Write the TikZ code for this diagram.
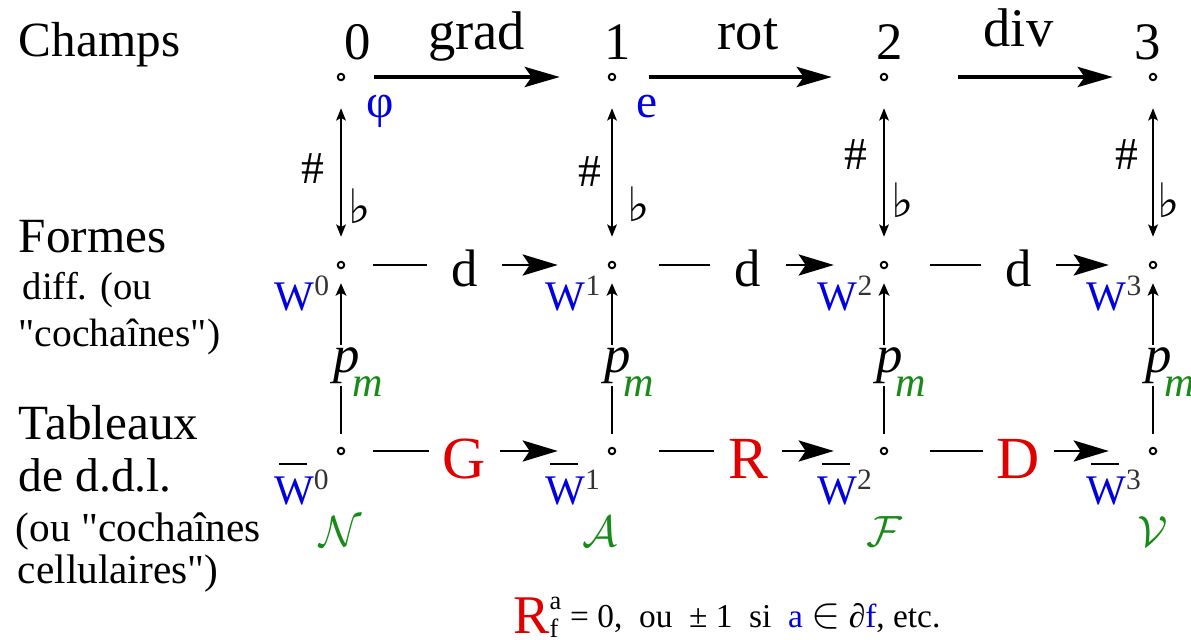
\documentclass[tikz,border=0pt]{standalone}
\usepackage{fontspec}
\setmainfont{Liberation Serif}[Ligatures=TeXOff]
\newfontfamily\symfont{DejaVu Sans}
\usepackage{xcolor}
\usepackage{tikz}
\usetikzlibrary{arrows.meta, positioning, calc}
\definecolor{wblue}{HTML}{0000E0}
\definecolor{ddlred}{HTML}{E00000}
\definecolor{cellgreen}{HTML}{188A18}
\newcommand{\sz}[1]{\fontsize{#1}{#1}\selectfont}
\newcommand{\Wbar}{\leavevmode\rlap{\hspace{0.12em}\textcolor{black}{\rule[0.95em]{0.66em}{0.035em}}}W}
\newcommand{\pmlab}{\textit{p}\kern-0.13em\raisebox{-0.46em}[0pt][0pt]{\textcolor{cellgreen}{\sz{24}\textit{m}}}}

\begin{document}
\begin{tikzpicture}[
    every node/.style={inner sep=2pt},
    site/.style={circle, draw, line width=1.1pt, minimum size=0.13cm, inner sep=0pt},
    rowhead/.style={anchor=base west, font=\sz{#1}},
    num/.style={anchor=base, font=\sz{30}},
    oplab/.style={anchor=base, font=\sz{31}},
    bigarrow/.style={line width=1.8pt, -{Stealth[length=20pt, width=11.5pt, inset=4pt]}},
    midarrow/.style={line width=1.5pt, -{Stealth[length=20pt, width=12pt, inset=4pt]}},
    duality/.style={line width=1.1pt,
        {Stealth[length=7pt, width=5.5pt, inset=1.5pt]}-{Stealth[length=7pt, width=5.5pt, inset=1.5pt]}},
    interp/.style={line width=1.5pt, -{Stealth[length=7pt, width=6pt, inset=1.5pt]}},
    gaplab/.style={fill=white, inner ysep=1pt},
    wlab/.style={anchor=base east, text=wblue, font=\sz{24}},
    meshlab/.style={text=cellgreen, font=\sz{23}},
]
\useasboundingbox (0,0) rectangle (23.82,-12.8);

% ── the three rows of sites ──────────────────────────────
\foreach \i/\x in {0/6.82, 1/12.24, 2/17.68, 3/23.06} {
    \node[site] (c\i) at (\x,-1.54) {};
    \node[site] (f\i) at (\x,-5.30) {};
    \node[site] (t\i) at (\x,-9.02) {};
}

% ── row headers ──────────────────────────────────────────
\node[rowhead=28]   (hchamps) at (0.30,-1.14)  {Champs};
\node[rowhead=28]   (hformes) at (0.30,-5.06)  {Formes};
\node[rowhead=22]   (hdiff)   at (0.38,-6.00)  {diff. (ou};
\node[rowhead=22.5] (hcoch)   at (0.30,-6.94)  {"cochaînes")};
\node[rowhead=28]   (htab)    at (0.30,-8.80)  {Tableaux};
\node[rowhead=27]   (hddl)    at (0.30,-9.84)  {de d.d.l.};
\node[rowhead=23.5] (hou)     at (0.24,-10.84) {(ou "cochaînes};
\node[rowhead=23.5] (hcell)   at (0.28,-11.66) {cellulaires")};

% ── fields ───────────────────────────────────────────────
\foreach \i/\dx in {0/0.34, 1/0.12, 2/0.12, 3/-0.1}
    \node[num] (n\i) at ($(c\i)+(\dx,0.34)$) {\i};

\draw[bigarrow, shorten <=0.58cm, shorten >=0.96cm] (c0) -- node[oplab, yshift=0.54cm] (grad) {grad} (c1);
\draw[bigarrow, shorten <=0.66cm, shorten >=0.96cm] (c1) -- node[oplab, yshift=0.54cm] (rot) {rot} (c2);
\draw[bigarrow, shorten <=1.40cm, shorten >=0.72cm] (c2) -- node[oplab, yshift=0.6cm] (div) {div} (c3);

\node[anchor=base west, text=wblue, font=\sz{27}] (phi)    at ($(c0)+(0.44,-0.82)$) {φ};
\node[anchor=base west, text=wblue, font=\sz{27}] (efield) at ($(c1)+(0.42,-0.82)$) {e};

% ── sharp / flat ─────────────────────────────────────────
\foreach \i in {0,...,3}
    \draw[duality, shorten <=0.54cm, shorten >=0.48cm] (c\i) -- (f\i);
\foreach \i/\hx/\hy/\fx/\fy in {0/-0.56/-1.84/0.38/-2.58, 1/-0.44/-1.90/0.54/-2.54,
                               2/-0.56/-1.56/0.38/-2.46, 3/-0.52/-1.56/0.32/-2.46} {
    \node[font=\sz{26}] (sharp\i) at ($(c\i)+(\hx,\hy)$) {\#};
    \node[font=\symfont\sz{27}] (flat\i)  at ($(c\i)+(\fx,\fy)$) {♭};
}

% ── differential forms and cochains ─────────────────────
\foreach \a/\b/\s/\e/\dx in {0/1/0.55cm/1.0cm/-0.24cm, 1/2/0.85cm/0.92cm/0cm, 2/3/0.84cm/0.8cm/0cm}
    \draw[midarrow, shorten <=\s, shorten >=\e] (f\a) --
        node[gaplab, inner xsep=14pt, font=\sz{30}, xshift=\dx, yshift=-0.06cm] (d\a) {d} (f\b);

\foreach \a/\b/\s/\e/\dx/\op in {0/1/0.55cm/1.0cm/-0.24cm/G, 1/2/0.85cm/0.92cm/0cm/R, 2/3/0.84cm/0.8cm/0cm/D}
    \draw[midarrow, shorten <=\s, shorten >=\e] (t\a) --
        node[gaplab, inner xsep=8pt, text=ddlred, font=\sz{34}, xshift=\dx, yshift=-0.16cm] (op\a) {\op} (t\b);

\foreach \i in {0,...,3}
    \draw[interp, shorten <=0.26cm, shorten >=0.28cm] (t\i) --
        node[fill=white, inner sep=1.5pt, font=\sz{30}, xshift=0.34cm, yshift=-0.15cm] (pm\i) {\pmlab} (f\i);

\foreach \i in {0,...,3} {
    \node[wlab] (w\i)  at ($(f\i)+(-0.14,-0.92)$) {W\textsuperscript{\textcolor{black!80}{\i}}};
    \node[wlab] (wb\i) at ($(t\i)+(-0.15,-1.08)$) {\Wbar\textsuperscript{\textcolor{black!80}{\i}}};
}

\foreach \i/\m/\dx in {0/N/0, 1/A/-0.24, 2/F/0, 3/V/0}
    \node[meshlab] (mesh\i) at ($(t\i)+(\dx,-1.62)$) {$\mathcal{\m}$};

% ── incidence numbers ────────────────────────────────────
\node[anchor=base west, font=\sz{19}, inner sep=0pt] (rel) at (10.26,-12.54)
    {\raisebox{-0.18em}{\textcolor{ddlred}{\sz{31}R}}\rlap{\raisebox{0.51em}{\sz{15}a}}\raisebox{-0.3em}{\sz{15}f}\hspace{0.35em}=
     0,\enspace ou\enspace ± 1\enspace si\enspace \textcolor{wblue}{a} {\sz{23}$\in$} ∂\textcolor{wblue}{f}, etc.};

\end{tikzpicture}
\end{document}
